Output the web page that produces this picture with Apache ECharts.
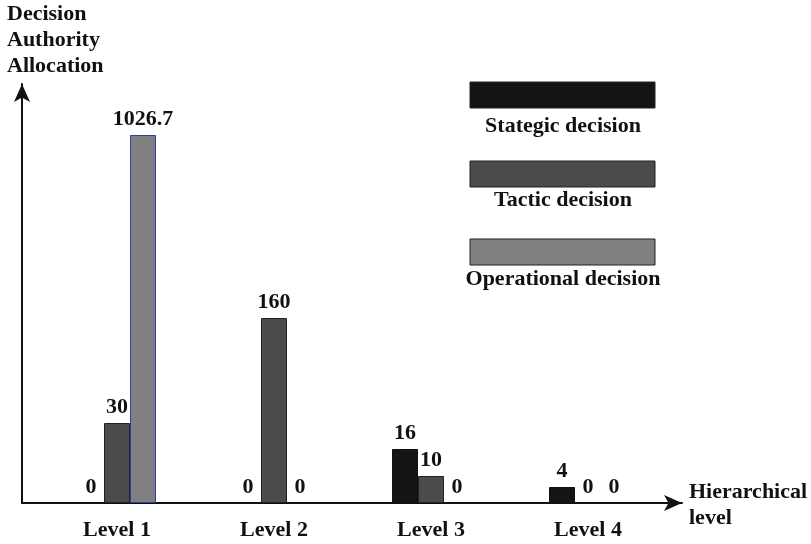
<!DOCTYPE html>
<html>
<head>
<meta charset="utf-8">
<script src="https://cdn.jsdelivr.net/npm/echarts@6/dist/echarts.min.js"></script>
<style>
html,body{margin:0;padding:0;background:#fff;}
#main{width:811px;height:544px;}
</style>
</head>
<body>
<div id="main"></div>
<script>
// categories and series names
var levels = ['Level 1', 'Level 2', 'Level 3', 'Level 4'];
var seriesNames = ['Stategic decision', 'Tactic decision', 'Operational decision'];

// values printed above the bars
var strategicVal = [0, 0, 16, 4];
var tacticVal = [30, 160, 10, 0];
var operationalVal = [1026.7, 0, 0, 0];

// the figure is not drawn to scale: drawn bar lengths
var strategicLen = [0, 0, 54, 16];
var tacticLen = [80, 185, 27, 0];
var operationalLen = [368, 0, 0, 0];

var FONT = '"Liberation Serif", "Times New Roman", serif';
var myChart = echarts.init(document.getElementById('main'));

function bar(name, len, val, color, border){
	return {
		name : name,
		type : 'bar',
		xAxisIndex : 0,
		yAxisIndex : 0,
		barWidth : 26,
		barGap : '0%',
		data : len.map(function(v){
			// no outline on empty bars
			return { value : v, itemStyle : { borderWidth : v ? 1 : 0 } };
		}),
		itemStyle : {
			color : color,
			borderColor : border,
			borderWidth : 1
		},
		label : {
			show : true,
			position : 'top',
			distance : 5,
			color : '#111',
			fontFamily : FONT,
			fontWeight : 'bold',
			fontSize : 22,
			formatter : function(p){
				return String(val[p.dataIndex]);
			}
		}
	};
}

var legendBoxes = [
	{ name : seriesNames[0], color : '#141414', top : 82, textY : 126 },
	{ name : seriesNames[1], color : '#4b4b4b', top : 161, textY : 200 },
	{ name : seriesNames[2], color : '#808080', top : 239, textY : 279 }
];

var graphics = [];
legendBoxes.forEach(function(b){
	graphics.push({
		type : 'rect',
		shape : { x : 470, y : b.top, width : 185, height : 26 },
		style : { fill : b.color, stroke : '#222', lineWidth : 1 }
	});
	graphics.push({
		type : 'text',
		x : 563, y : b.textY,
		style : {
			text : b.name, fill : '#111', font : 'bold 22px ' + FONT,
			textAlign : 'center', textVerticalAlign : 'middle'
		}
	});
});
graphics.push({
	type : 'text', left : 7, top : 1,
	style : {
		text : 'Decision\nAuthority\nAllocation', fill : '#111',
		font : 'bold 22px ' + FONT, lineHeight : 26
	}
});
graphics.push({
	type : 'text', left : 689, top : 479,
	style : {
		text : 'Hierarchical\nlevel', fill : '#111',
		font : 'bold 22px ' + FONT, lineHeight : 26
	}
});

var option = {
	animation : false,
	grid : [
		{ left : 38.5, right : 144.5, top : 103, bottom : 41 },
		{ left : 22, right : 129, top : 84, bottom : 41 }
	],
	xAxis : [{
		type : 'category',
		gridIndex : 0,
		data : levels,
		axisLine : { show : false },
		axisTick : { show : false },
		axisLabel : {
			margin : 16,
			color : '#111',
			fontFamily : FONT,
			fontWeight : 'bold',
			fontSize : 22
		}
	},{
		type : 'value',
		gridIndex : 1,
		min : 0, max : 1,
		axisLine : {
			show : true,
			symbol : ['none', 'arrow'],
			symbolSize : [12, 18],
			lineStyle : { color : '#111', width : 2 }
		},
		axisTick : { show : false },
		axisLabel : { show : false },
		splitLine : { show : false }
	}],
	yAxis : [{
		type : 'value',
		gridIndex : 0,
		min : 0, max : 400,
		show : false
	},{
		type : 'value',
		gridIndex : 1,
		min : 0, max : 1,
		axisLine : {
			show : true,
			symbol : ['none', 'arrow'],
			symbolSize : [12, 18],
			lineStyle : { color : '#111', width : 2 }
		},
		axisTick : { show : false },
		axisLabel : { show : false },
		splitLine : { show : false }
	}],
	series : [
		bar(seriesNames[0], strategicLen, strategicVal, '#141414', '#111'),
		bar(seriesNames[1], tacticLen, tacticVal, '#4b4b4b', '#222'),
		bar(seriesNames[2], operationalLen, operationalVal, '#808080', '#2e3fa8')
	],
	graphic : graphics
};
myChart.setOption(option);
</script>
</body>
</html>
